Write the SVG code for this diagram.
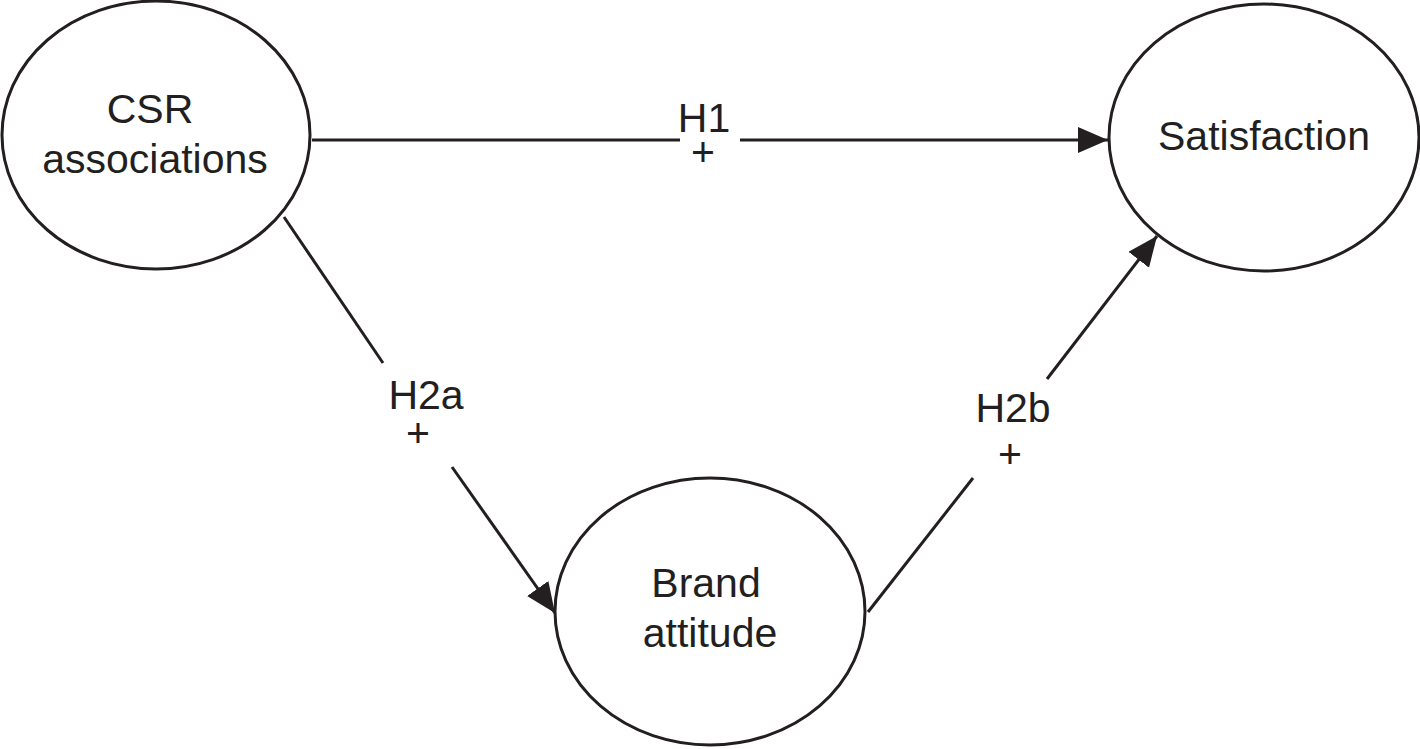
<svg xmlns="http://www.w3.org/2000/svg" width="1420" height="749" viewBox="0 0 1420 749">
<defs>
<style>
.node{fill:#fff;stroke:#231f20;stroke-width:3}
.t{font-family:"Liberation Sans",Arial,sans-serif;font-size:41px;fill:#231f20;text-anchor:middle}
.c{fill:none;stroke:#231f20;stroke-width:3}
</style>
<marker id="ah" markerUnits="userSpaceOnUse" markerWidth="32" markerHeight="28" refX="30" refY="13" orient="auto">
<path d="M0,0 L30,13 L0,26 Z" fill="#231f20"/>
</marker>
</defs>
<rect width="1420" height="749" fill="#fff"/>
<g id="connectors">
<line class="c" x1="312" y1="140" x2="680" y2="140"/>
<line class="c" x1="740" y1="140" x2="1108" y2="140" marker-end="url(#ah)"/>
<line class="c" x1="284" y1="217" x2="383" y2="363"/>
<line class="c" x1="452" y1="467" x2="555" y2="613" marker-end="url(#ah)"/>
<line class="c" x1="868" y1="612" x2="973" y2="478"/>
<line class="c" x1="1047" y1="379" x2="1157" y2="236" marker-end="url(#ah)"/>
<text class="t"><tspan x="704" y="132">H1</tspan><tspan x="703" y="166">+</tspan></text>
<text class="t"><tspan x="426" y="409">H2a</tspan><tspan x="418" y="447">+</tspan></text>
<text class="t"><tspan x="1013" y="422">H2b</tspan><tspan x="1010" y="468">+</tspan></text>
</g>
<g id="csr">
<ellipse class="node" cx="156" cy="135" rx="154" ry="134"/>
<text class="t"><tspan x="150" y="123">CSR</tspan><tspan x="155" y="173">associations</tspan></text>
</g>
<g id="satisfaction">
<ellipse class="node" cx="1264" cy="137.5" rx="155" ry="133.5"/>
<text class="t" x="1264" y="150">Satisfaction</text>
</g>
<g id="brand">
<ellipse class="node" cx="710" cy="611.5" rx="155" ry="133.5"/>
<text class="t"><tspan x="706" y="597">Brand</tspan><tspan x="710" y="647">attitude</tspan></text>
</g>
</svg>
